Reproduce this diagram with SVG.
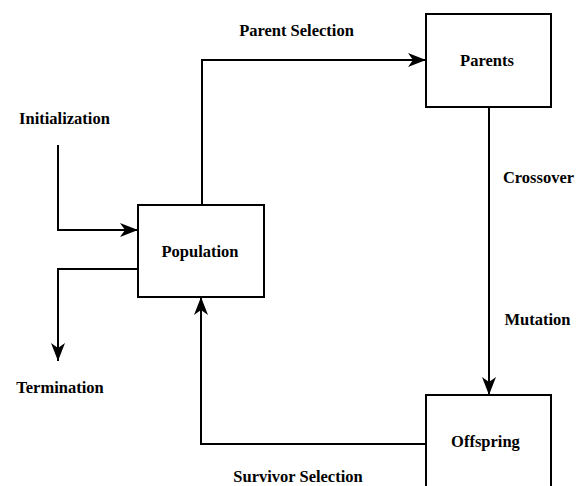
<svg xmlns="http://www.w3.org/2000/svg" width="577" height="486" viewBox="0 0 577 486">
<defs>
<marker id="arr" markerWidth="18" markerHeight="14" refX="18" refY="7" orient="auto" markerUnits="userSpaceOnUse">
<path d="M0,0 L18,7 L0,14 L5,7 Z" fill="#000"/>
</marker>
<style>
.box{fill:#fff;stroke:#000;stroke-width:2}
.ln{fill:none;stroke:#000;stroke-width:2}
text{font-family:"Liberation Serif",serif;font-weight:bold;font-size:16.5px;fill:#000;text-anchor:middle}
</style>
</defs>
<rect width="577" height="486" fill="#fff"/>
<g id="connectors">
<path class="ln" d="M202,205 V60 H426" marker-end="url(#arr)"/>
<path class="ln" d="M489,107 V395" marker-end="url(#arr)"/>
<path class="ln" d="M426,444 H201 V297" marker-end="url(#arr)"/>
<path class="ln" d="M58,145 V230 H138" marker-end="url(#arr)"/>
<path class="ln" d="M138,269 H58 V361" marker-end="url(#arr)"/>
<text x="296.5" y="36">Parent Selection</text>
<text x="538.5" y="183">Crossover</text>
<text x="537.5" y="325">Mutation</text>
<text x="298" y="482">Survivor Selection</text>
<text x="64.5" y="124">Initialization</text>
<text x="60" y="393">Termination</text>
</g>
<g id="parents">
<rect class="box" x="426" y="14" width="125" height="93"/>
<text x="487" y="66">Parents</text>
</g>
<g id="population">
<rect class="box" x="138" y="205" width="126" height="92"/>
<text x="200" y="257">Population</text>
</g>
<g id="offspring">
<rect class="box" x="426" y="395" width="125" height="100"/>
<text x="485.5" y="447">Offspring</text>
</g>
</svg>
